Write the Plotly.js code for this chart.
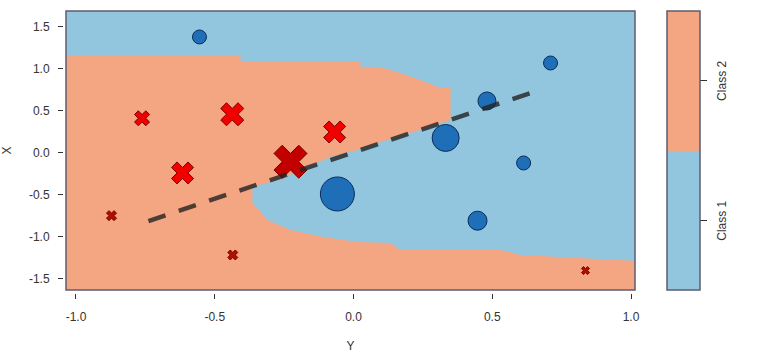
<!DOCTYPE html>
<html>
<head>
<meta charset="utf-8">
<script src="https://cdn.plot.ly/plotly-3.0.1.min.js"></script>
<style>
  html, body { margin: 0; padding: 0; background: #fff; }
  #chart { width: 771px; height: 356px; }
</style>
</head>
<body>
<div id="chart"></div>
<script>
// horizontal axis is labelled "Y", vertical axis "X"
const CLASS_NAMES = ['Class 1', 'Class 2'];

// class 1 points (circles)
const c1Y = [-0.555, 0.710, 0.481, 0.332, 0.613, -0.058, 0.447];
const c1X = [1.381, 1.071, 0.619, 0.179, -0.119, -0.488, -0.806];
const c1W = [1.4, 1.4, 1.8, 2.7, 1.4, 3.4, 1.9];

// class 2 points (crosses)
const c2Y = [-0.762, -0.437, -0.616, -0.227, -0.068, -0.872, -0.435, 0.836];
const c2X = [0.413, 0.461, -0.238, -0.104, 0.250, -0.746, -1.214, -1.400];
const c2W = [1.5, 2.3, 2.2, 3.3, 2.2, 1.0, 1.0, 0.8];

// dashed boundary line
const lineY = [-0.739, 0.649];
const lineX = [-0.810, 0.726];

// class 2 decision region outline (rest of the plot is class 1)
const regionY = [-1.1, -1.1, -0.407, -0.407, 0.025, 0.025, 0.097, 0.169, 0.241, 0.314, 0.350,
  0.350, 0.314, 0.216, 0.097, 0.014, -0.083, -0.166, -0.274, -0.364,
  -0.364, -0.310, -0.227, -0.108, 0.014, 0.133, 0.169, 0.530, 0.602, 0.951, 1.1, 1.1];
const regionX = [-1.7, 1.158, 1.158, 1.087, 1.087, 1.027, 1.024, 0.952, 0.869, 0.774, 0.774,
  0.393, 0.357, 0.250, 0.131, 0.036, -0.048, -0.167, -0.321, -0.405,
  -0.595, -0.798, -0.917, -1.000, -1.060, -1.071, -1.155, -1.155, -1.214, -1.274, -1.298, -1.7];

const xTicks = [-1, -0.5, 0, 0.5, 1];
const xTickText = ['-1.0', '-0.5', '0.0', '0.5', '1.0'];
const yTicks = [-1.5, -1, -0.5, 0, 0.5, 1, 1.5];
const yTickText = ['-1.5', '-1.0', '-0.5', '0.0', '0.5', '1.0', '1.5'];

const BLUE = '#92c5de';
const ORANGE = '#f4a582';
const FONT = { family: 'Liberation Sans, Arial, sans-serif', size: 12, color: '#333' };

const traces = [
  {
    x: regionY, y: regionX, type: 'scatter', mode: 'lines',
    fill: 'toself', fillcolor: ORANGE, line: { width: 0 }, hoverinfo: 'skip',
  },
  {
    // only here to draw the class colour bar
    x: [9, 9], y: [9, 9], type: 'scatter', mode: 'markers',
    marker: {
      size: 1, color: [1, 2], cmin: 0.5, cmax: 2.5,
      colorscale: [[0, BLUE], [0.5, BLUE], [0.5, ORANGE], [1, ORANGE]],
      showscale: true,
      colorbar: {
        x: 1.056, xanchor: 'left', y: 1, yanchor: 'top',
        thickness: 33, len: 279, lenmode: 'pixels', xpad: 0, ypad: 0,
        outlinewidth: 1.5, outlinecolor: '#5c5c70',
        tickvals: [1, 2], showticklabels: false,
        ticks: 'outside', ticklen: 7, tickcolor: '#333',
      },
    },
    hoverinfo: 'skip',
  },
  {
    x: c1Y, y: c1X, type: 'scatter', mode: 'markers', name: CLASS_NAMES[0],
    marker: {
      symbol: 'circle', size: c1W.map(w => w * 10), opacity: 1,
      color: '#1f6fb8', line: { color: '#0b2c58', width: 1 },
    },
  },
  {
    x: c2Y, y: c2X, type: 'scatter', mode: 'markers', name: CLASS_NAMES[1],
    marker: {
      symbol: 'x', size: c2W.map(w => w * 10 / 1.13), opacity: 1,
      color: c2W.map(w => w > 3 ? '#c20000' : (w < 1.2 ? '#b01000' : '#f20000')),
      line: { color: '#7a0000', width: 1 },
    },
  },
  {
    x: lineY, y: lineX, type: 'scatter', mode: 'lines',
    line: { color: 'rgba(35,35,35,0.8)', width: 4.5, dash: '18px,14px' },
    hoverinfo: 'skip',
  },
];

const layout = {
  width: 771, height: 356,
  paper_bgcolor: '#fff', plot_bgcolor: BLUE,
  font: FONT,
  showlegend: false,
  margin: { l: 63, r: 136, t: 11, b: 63 },
  xaxis: {
    domain: [3 / 572, 1], range: [-1.036, 1.0144],
    anchor: 'free', position: 0,
    showgrid: false, zeroline: false, showline: false,
    tickvals: xTicks, ticktext: xTickText,
    ticks: 'outside', ticklen: 5, tickcolor: '#333', ticklabelstandoff: 8,
    title: { text: 'Y', font: FONT, standoff: 18 },
  },
  yaxis: {
    domain: [3 / 282, 1], range: [-1.631, 1.690],
    anchor: 'free', position: 0,
    showgrid: false, zeroline: false, showline: false,
    tickvals: yTicks, ticktext: yTickText,
    ticks: 'outside', ticklen: 5, tickcolor: '#333', ticklabelstandoff: 6,
    title: { text: 'X', font: FONT, standoff: 14 },
  },
  shapes: [{
    type: 'rect', xref: 'x domain', yref: 'y domain',
    x0: 0, x1: 1, y0: 0, y1: 1,
    line: { color: '#5c5c70', width: 1.5 },
  }],
  annotations: CLASS_NAMES.map((name, i) => ({
    text: name, xref: 'paper', yref: 'paper',
    x: 1.152, y: i === 0 ? 0.256 : 0.752,
    xanchor: 'center', yanchor: 'middle',
    textangle: -90, showarrow: false, font: FONT,
  })),
};

Plotly.newPlot('chart', traces, layout, { displayModeBar: false, staticPlot: true });
</script>
</body>
</html>
